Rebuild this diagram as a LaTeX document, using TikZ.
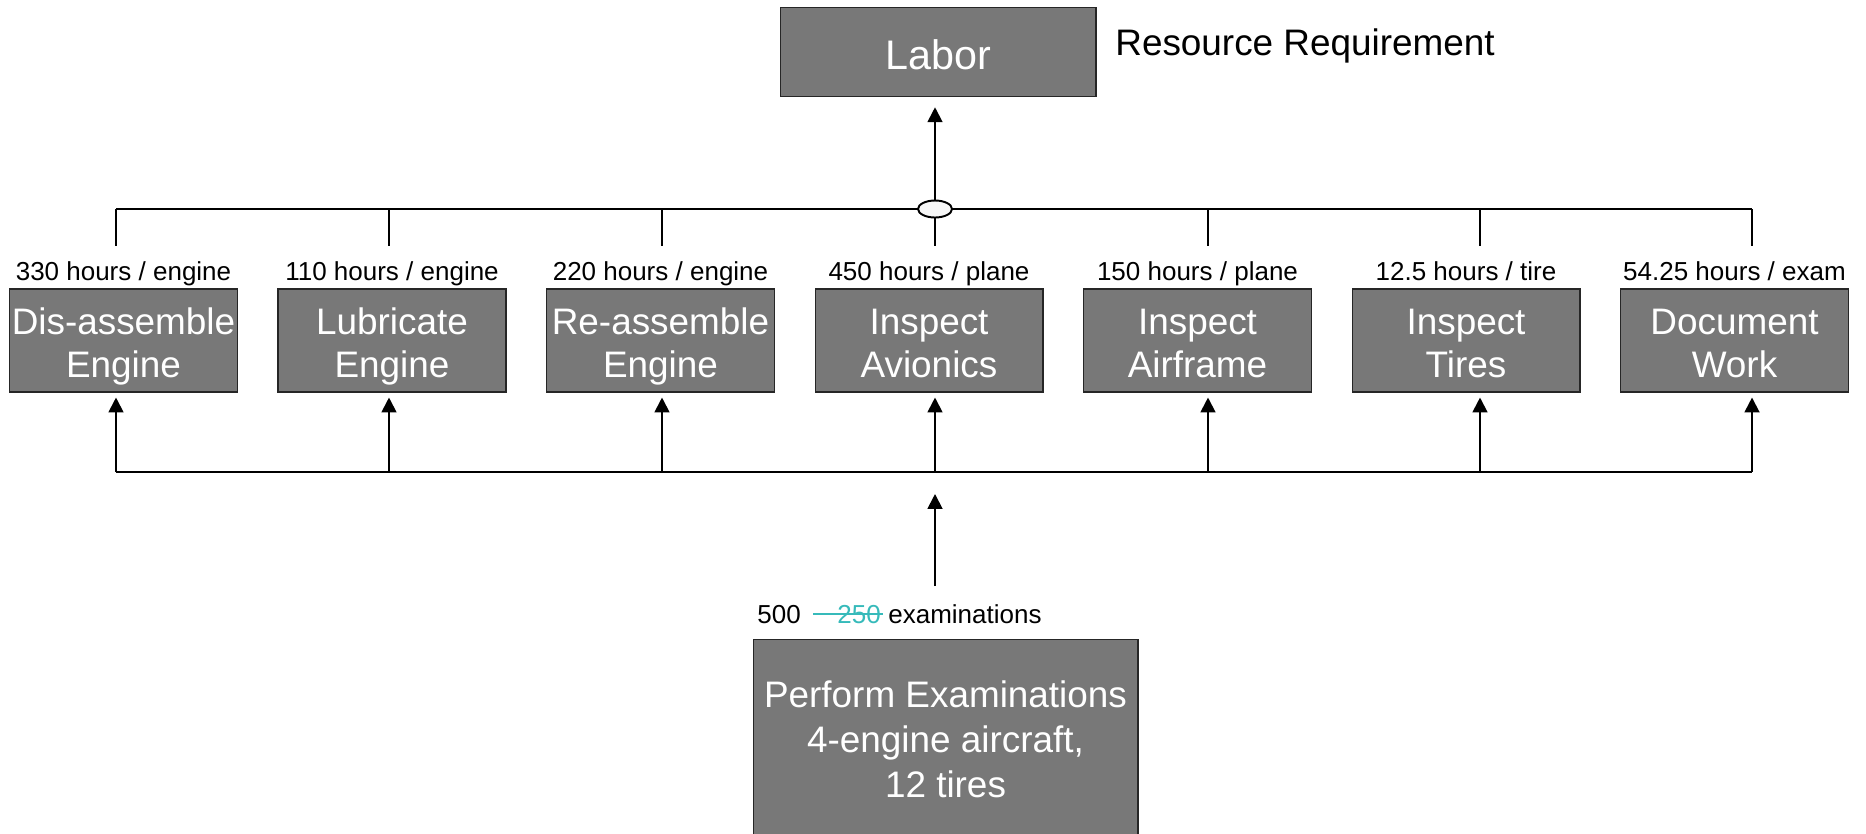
\documentclass[tikz,border=0pt]{standalone}
\usepackage{fontspec}
\setmainfont{Liberation Sans}
\usetikzlibrary{arrows.meta,shapes.geometric}
\definecolor{boxgray}{RGB}{120,120,120}
\definecolor{oldteal}{RGB}{54,186,186}

\tikzset{
  task/.style={rectangle,draw=black!85,line width=0.6pt,fill=boxgray,text=white,
    minimum width=4.56cm,minimum height=2.06cm,align=center,inner sep=0pt,
    font=\fontsize{21}{24.5}\selectfont,text height=47pt,text depth=5.3pt},
  rate/.style={inner sep=0pt,anchor=base,font=\fontsize{14.8}{17}\selectfont},
  wire/.style={draw=black,line width=1.1pt}
}

\begin{document}
\begin{tikzpicture}[x=0.02cm,y=-0.02cm]
		\clip (0,0) rectangle (1866,833);

		\begin{scope}[every node/.style={task}]
		    \node[minimum width=6.32cm,minimum height=1.77cm,font=\fontsize{23.5}{27}\selectfont,
		          text height=25.4pt] (labor) at (938,52) {Labor};
		    \node (dis) at (123.5,340.5) {Dis-assemble\\Engine};
		    \node (lub) at (392,340.5) {Lubricate\\Engine};
		    \node (reas) at (660.5,340.5) {Re-assemble\\Engine};
		    \node (avi) at (929,340.5) {Inspect\\Avionics};
		    \node (afr) at (1197.5,340.5) {Inspect\\Airframe};
		    \node (tire) at (1466,340.5) {Inspect\\Tires};
		    \node (doc) at (1734.5,340.5) {Document\\Work};
		    \node[minimum width=7.7cm,minimum height=4.12cm,font=\fontsize{21}{25.6}\selectfont,
		          text height=67.9pt] (exam) at (945.5,742) {Perform Examinations\\4-engine aircraft,\\12 tires};
		\end{scope}

		\begin{scope}[every node/.style={rate}]
		    \node[anchor=base west,font=\fontsize{21}{24}\selectfont] (req) at (1115,55) {Resource Requirement};
		    \node (rdis) at (123.5,280) {330 hours / engine};
		    \node (rlub) at (392,280) {110 hours / engine};
		    \node (rreas) at (660.5,280) {220 hours / engine};
		    \node (ravi) at (929,280) {450 hours / plane};
		    \node (rafr) at (1197.5,280) {150 hours / plane};
		    \node (rtire) at (1466,280) {12.5 hours / tire};
		    \node (rdoc) at (1734.5,280) {54.25 hours / exam};
		    \node[anchor=base west] (new) at (757,623) {500};
		    \node[anchor=base west,text=oldteal] (old) at (837,623) {250};
		    \node[anchor=base west] (cnt) at (888,623) {examinations};
		\end{scope}

		% bus points
		\coordinate (t1) at (116,209);
		\coordinate (t2) at (389,209);
		\coordinate (t3) at (662,209);
		\coordinate (t5) at (1208,209);
		\coordinate (t6) at (1480,209);
		\coordinate (t7) at (1752,209);
		\coordinate (tick) at (0,246);
		\coordinate (b1) at (116,472);
		\coordinate (b2) at (389,472);
		\coordinate (b3) at (662,472);
		\coordinate (b4) at (935,472);
		\coordinate (b5) at (1208,472);
		\coordinate (b6) at (1480,472);
		\coordinate (b7) at (1752,472);
		\coordinate (lo) at (935,586);
		\coordinate (hi) at (935,494);

		\begin{scope}[>={Triangle[length=8.5pt,width=8.5pt]},
		              every edge/.style={wire}]
		    \path (t1) edge (t7);
		    \path (t1) edge (t1 |- tick);
		    \path (t2) edge (t2 |- tick);
		    \path (t3) edge (t3 |- tick);
		    \path (t5) edge (t5 |- tick);
		    \path (t6) edge (t6 |- tick);
		    \path (t7) edge (t7 |- tick);
		    \path (b1) edge (b7);
		    \path[->,shorten >=0.1cm] (b1) edge (b1 |- dis.south);
		    \path[->,shorten >=0.1cm] (b2) edge (b2 |- lub.south);
		    \path[->,shorten >=0.1cm] (b3) edge (b3 |- reas.south);
		    \path[->,shorten >=0.1cm] (b4) edge (b4 |- avi.south);
		    \path[->,shorten >=0.1cm] (b5) edge (b5 |- afr.south);
		    \path[->,shorten >=0.1cm] (b6) edge (b6 |- tire.south);
		    \path[->,shorten >=0.1cm] (b7) edge (b7 |- doc.south);
		    \path[->] (lo) edge (hi);
		\end{scope}

		\node[ellipse,wire,fill=black!3,minimum width=0.68cm,minimum height=0.34cm,inner sep=0pt] (sum) at (935,209) {};
		\begin{scope}[>={Triangle[length=8.5pt,width=8.5pt]},
		              every edge/.style={wire}]
		    \path (sum.south) edge (sum.south |- tick);
		    \path[->,shorten >=0.21cm] (sum.north) edge (sum.north |- labor.south);
		\end{scope}

		\draw[oldteal,line width=0.8pt] ([xshift=-0.48cm]old.west) -- ([xshift=0.04cm]old.east);
\end{tikzpicture}
\end{document}
